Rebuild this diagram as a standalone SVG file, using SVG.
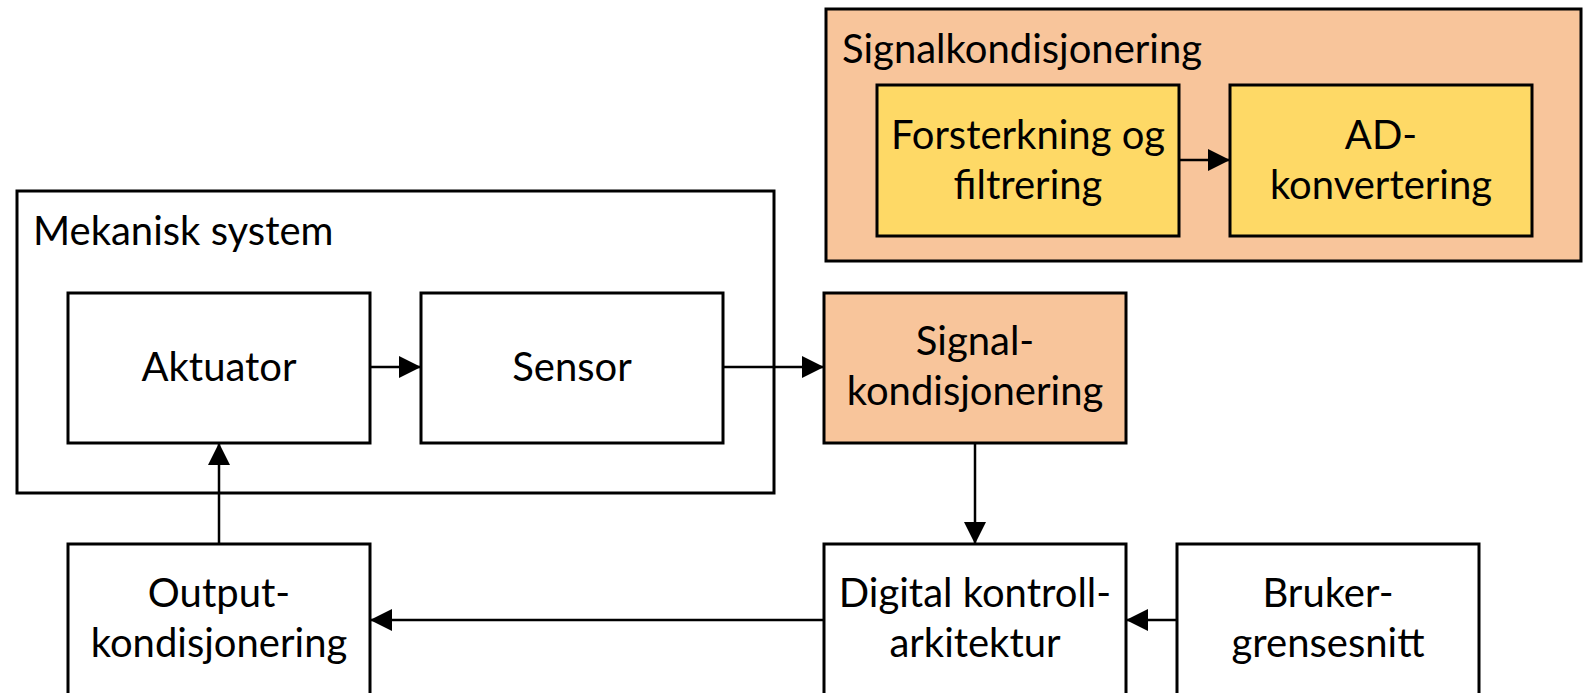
<svg xmlns="http://www.w3.org/2000/svg" width="1588" height="693" viewBox="0 0 1588 693">
<style>
.box{fill:#ffffff;stroke:#000;stroke-width:3}
.org{fill:#F8C59B;stroke:#000;stroke-width:3}
.yel{fill:#FED966;stroke:#000;stroke-width:3}
.t{font-family:Lato,"Liberation Sans",sans-serif;font-size:40px;fill:#000;text-anchor:middle}
.tl{font-family:Lato,"Liberation Sans",sans-serif;font-size:40px;fill:#000;text-anchor:start}
.c{stroke:#000;stroke-width:2.5;fill:none;marker-end:url(#ah)}
</style>
<defs>
<marker id="ah" markerUnits="userSpaceOnUse" markerWidth="24" markerHeight="22" refX="22" refY="11" orient="auto">
<path d="M0,0 L22,11 L0,22 Z" fill="#000"/>
</marker>
</defs>
<rect width="1588" height="693" fill="#fff"/>
<g id="signalkondisjonering-group">
<rect class="org" x="826" y="9" width="755" height="252"/>
<text class="tl" x="842" y="63">Signalkondisjonering</text>
</g>
<g id="forsterkning">
<rect class="yel" x="877" y="85" width="302" height="151"/>
<text class="t" x="1028" y="149">Forsterkning og</text>
<text class="t" x="1028" y="199">filtrering</text>
</g>
<g id="ad">
<rect class="yel" x="1230" y="85" width="302" height="151"/>
<text class="t" x="1381" y="149">AD-</text>
<text class="t" x="1381" y="199">konvertering</text>
</g>
<g id="mekanisk">
<rect class="box" x="17" y="191" width="757" height="302"/>
<text class="tl" x="33" y="245">Mekanisk system</text>
</g>
<g id="aktuator">
<rect class="box" x="68" y="293" width="302" height="150"/>
<text class="t" x="219" y="381">Aktuator</text>
</g>
<g id="sensor">
<rect class="box" x="421" y="293" width="302" height="150"/>
<text class="t" x="572" y="381">Sensor</text>
</g>
<g id="signal">
<rect class="org" x="824" y="293" width="302" height="150"/>
<text class="t" x="975" y="355">Signal-</text>
<text class="t" x="975" y="405">kondisjonering</text>
</g>
<g id="output">
<rect class="box" x="68" y="544" width="302" height="160"/>
<text class="t" x="219" y="607">Output-</text>
<text class="t" x="219" y="657">kondisjonering</text>
</g>
<g id="digital">
<rect class="box" x="824" y="544" width="302" height="160"/>
<text class="t" x="975" y="607">Digital kontroll-</text>
<text class="t" x="975" y="657">arkitektur</text>
</g>
<g id="bruker">
<rect class="box" x="1177" y="544" width="302" height="160"/>
<text class="t" x="1328" y="607">Bruker-</text>
<text class="t" x="1328" y="657">grensesnitt</text>
</g>
<g id="connectors">
<line class="c" x1="1179" y1="160" x2="1230" y2="160"/>
<line class="c" x1="370" y1="367" x2="421" y2="367"/>
<line class="c" x1="723" y1="367" x2="824" y2="367"/>
<line class="c" x1="975" y1="443" x2="975" y2="544"/>
<line class="c" x1="824" y1="620" x2="370" y2="620"/>
<line class="c" x1="1177" y1="620" x2="1126" y2="620"/>
<line class="c" x1="219" y1="544" x2="219" y2="443"/>
</g>
</svg>
